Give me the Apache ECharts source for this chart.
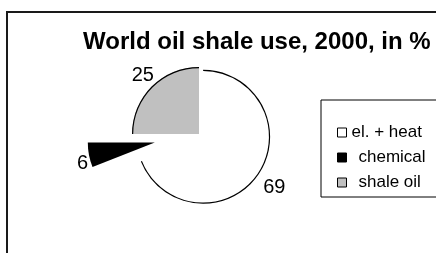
<!DOCTYPE html>
<html>
<head>
<meta charset="utf-8">
<script src="https://cdn.jsdelivr.net/npm/echarts@6/dist/echarts.min.js"></script>
<style>
  html, body { margin: 0; padding: 0; background: #fff; }
  #chart { width: 436px; height: 253px; }
</style>
</head>
<body>
<div id="chart"></div>
<script>
// 2000年世界油页岩利用 (%)
var uses = ['el. + heat', 'chemical', 'shale oil'];
var shares = [69, 6, 25];
var colors = ['#ffffff', '#000000', '#c0c0c0'];

var myChart = echarts.init(document.getElementById('chart'));

var font = 'Arial, "Liberation Sans", sans-serif';
var center = [199, 134];
var none = 'rgba(0,0,0,0)';
// 标签微调
var labelShift = [[-2, 9], [7, 7], [8, -5]];

// show: 该组显示哪些扇区; selectIdx: 分离的扇区
function slices(show, selectIdx, fill, withLabel) {
    return uses.map(function (name, i) {
        var on = show.indexOf(i) >= 0;
        return {
            name: name,
            value: shares[i],
            selected: i === selectIdx,
            itemStyle: { color: on ? (fill || colors[i]) : none },
            label: { show: withLabel && on }
        };
    });
}

function pie(show, selectIdx, offset, radius, fill, withLabel) {
    return {
        type: 'pie',
        center: center,
        radius: radius,
        startAngle: 90,
        clockwise: true,
        selectedMode: 'single',
        selectedOffset: offset,
        avoidLabelOverlap: false,
        emphasis: { scale: false },
        itemStyle: { borderWidth: 0 },
        label: {
            position: 'outside',
            alignTo: 'none',
            distanceToLabelLine: 0,
            formatter: '{c}',
            fontFamily: font,
            fontSize: 20,
            color: '#000'
        },
        labelLine: { show: false, length: 8, length2: 0 },
        labelLayout: function (p) {
            var s = labelShift[p.dataIndex];
            return { dx: s[0], dy: s[1] };
        },
        data: slices(show, selectIdx, fill, withLabel)
    };
}

myChart.setOption({
    animation: false,
    title: {
        text: 'World oil shale use, 2000, in %',
        left: 83,
        top: 30,
        padding: 0,
        textStyle: {
            fontFamily: font,
            fontSize: 24,
            fontWeight: 'bold',
            color: '#000'
        }
    },
    legend: {
        orient: 'vertical',
        left: 321,
        top: 100,
        padding: [24, 120, 6, 16],
        borderColor: '#000',
        borderWidth: 1,
        itemWidth: 9,
        itemHeight: 9,
        itemGap: 8,
        selectedMode: false,
        textStyle: {
            fontFamily: font,
            fontSize: 17,
            lineHeight: 17,
            color: '#000'
        },
        data: uses.map(function (name, i) {
            return {
                name: name,
                icon: 'rect',
                itemStyle: { color: colors[i], borderColor: '#000', borderWidth: 1 },
                textStyle: { padding: i === 0 ? 0 : [0, 0, 0, 7] }
            };
        })
    },
    graphic: [{
        type: 'rect',
        shape: { x: 7, y: 12, width: 520, height: 400 },
        style: { fill: 'none', stroke: '#1a1a1a', lineWidth: 2 },
        silent: true
    }],
    series: [
        pie([0, 2], 0, 5, [0, 67], null, true),
        pie([0, 2], 0, 5, [65.8, 67], '#000', false),
        pie([1], 1, 45, [0, 67], null, true)
    ]
});
</script>
</body>
</html>
